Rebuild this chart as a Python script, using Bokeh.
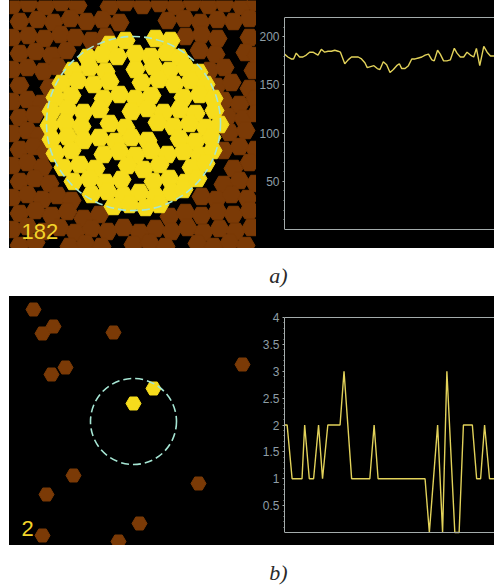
from bokeh.plotting import figure
from bokeh.layouts import column, row
from bokeh.models import Spacer, Range1d, Label, FixedTicker, Span
from bokeh.embed import file_html
from bokeh.resources import INLINE

# ---------------- data ----------------
# panel a: particle positions (panel pixel units, y downward)
brown_a = [
    (3,5),(19,3),(36,6),(52,2),(68,5),(100,6),(116,2),(133,5),(150,3),(166,6),(183,2),(199,5),(215,3),(232,6),(246,2),
    (10,21),(28,19),(44,22),(61,18),(77,21),(93,19),(110,22),(158,20),(175,18),(191,22),(208,19),(224,21),(240,18),
    (3,37),(19,35),(35,38),(51,34),(66,37),(82,40),(96,36),(176,36),(192,34),(208,38),(240,37),
    (10,53),(26,51),(42,55),(57,50),(190,50),(206,54),(236,52),(247,55),
    (3,69),(18,67),(34,71),(48,66),(200,70),(215,67),(244,70),
    (10,85),(40,87),(207,86),(222,82),(240,88),
    (3,101),(18,99),(32,103),(214,100),(230,104),(246,98),
    (10,117),(25,114),(218,116),(234,118),(247,113),
    (3,133),(18,130),(30,135),(220,132),(236,130),
    (10,149),(24,146),(36,151),(214,150),(230,146),(246,149),
    (3,165),(18,162),(33,167),(224,168),(240,162),
    (10,181),(25,178),(40,183),(214,184),(230,180),(246,183),
    (3,197),(18,194),(33,199),(48,195),(62,200),(192,196),(207,199),(222,194),(238,198),
    (10,213),(26,210),(42,215),(58,211),(74,218),(90,214),(160,216),(176,212),(192,215),(208,211),(224,214),(240,210),
    (3,229),(18,226),(34,231),(50,227),(66,232),(82,228),(98,231),(114,227),(130,232),(146,228),(162,231),(178,227),(194,232),(210,228),(226,231),(242,227),
    (10,245),(26,242),(60,246),(76,243),(92,246),(124,244),(140,242),(156,246),(188,243),(204,246),(220,242),(236,245),
]
yellow_a = [
    (100,44),(116,40),(146,38),(161,40),
    (78,57),(93,54),(108,56),(126,53),(141,56),(157,52),(170,57),
    (63,70),(80,67),(96,71),(126,69),(144,66),(160,70),(176,67),(189,72),
    (52,83),(68,80),(84,84),(100,81),(132,82),(149,79),(165,84),(181,80),(196,84),
    (46,97),(62,95),(94,98),(110,94),(126,98),(142,95),(174,97),(190,94),(204,98),
    (42,111),(58,108),(74,112),(90,109),(122,111),(138,108),(154,112),(170,109),(186,113),(205,110),
    (40,125),(56,122),(72,126),(100,123),(116,127),(148,122),(164,126),(180,123),(196,127),(210,124),
    (42,139),(58,136),(74,140),(90,137),(106,141),(122,137),(138,140),(170,138),(186,141),(202,137),
    (46,153),(62,150),(94,154),(110,151),(126,155),(142,150),(158,154),(174,151),(190,155),(203,150),
    (54,167),(70,164),(86,168),(118,165),(134,169),(150,164),(182,167),(196,163),
    (64,181),(80,178),(96,182),(112,179),(144,181),(160,178),(176,182),(188,178),
    (82,194),(98,191),(114,195),(130,192),(146,196),(162,192),(174,189),
    (104,206),(120,204),(136,207),(150,204),
]
circle_a_x = [124]
circle_a_y = [123]
circle_a_r = 87
count_a = 182

# panel a: count over time
a_t = [0,10,20,27,35,45,55,65,75,85,95,100,110,120,130,140,150,160,167,180,190,200,210,220,230,240,247,257,267,277,
       285,295,305,315,325,335,343,350,360,370,380,390,400,410,420,430,440,447,457,465,475,485,495,507,515,525,535,545,
       555,565,573,583,595,605,615,627]
a_count = [182,179,177,177,183,179,179,181,184,184,182,181,187,184,185,185,186,185,184,172,
           176,179,179,179,177,173,168,169,170,167,166,174,171,163,166,170,172,167,167,170,
           177,177,178,179,181,182,176,175,186,182,175,175,176,188,183,179,179,184,181,179,
           188,170,190,184,180,180]
a_yticks = [50, 100, 150, 200]
a_ymax = 220

# panel b: particle positions
brown_b_x = [24, 44, 33, 104, 56, 42, 233, 64, 189, 37, 130, 33, 109]
brown_b_y = [13, 30, 37, 36, 71, 78, 68, 179, 187, 198, 227, 239, 245]
yellow_b_x = [144, 124]
yellow_b_y = [92, 107]
circle_b_x = [124]
circle_b_y = [125]
circle_b_r = 43
count_b = 2

# panel b: count over time
b_t = [0,8,23,53,61,75,88,103,115,131,168,180,203,258,271,283,425,438,463,478,491,515,528,541,568,581,593,605,620,635]
b_count = [2,2,1,1,2,1,1,2,1,2,2,3,1,1,2,1,1,0,2,0,3,0,0,2,2,1,1,2,1,1]
b_yticks = [0.5, 1, 1.5, 2, 2.5, 3, 3.5, 4]
b_ymax = 4

captions = ["a)", "b)"]

# ---------------- style ----------------
BROWN = "#7b3a06"
YELLOW = "#f6dc1c"
CIRC = "#a6e6d4"
LINE = "#e2d25a"
AXIS = "#a4acac"
TICKLAB = "#8e9ea6"
LEFT_W, RIGHT_W = 247, 238


def particle_panel(bx, by, yx, yy, cx, cy, r, count, h, size):
    p = figure(width=LEFT_W, height=h, output_backend="svg", toolbar_location=None,
               x_range=Range1d(0, LEFT_W), y_range=Range1d(h, 0),
               x_axis_type=None, y_axis_type=None, min_border=0,
               background_fill_color="black", border_fill_color="black")
    p.grid.visible = False
    p.outline_line_color = None
    p.scatter(bx, by, marker="hex", size=size, fill_color=BROWN, line_color=BROWN)
    p.scatter(yx, yy, marker="hex", size=size, fill_color=YELLOW, line_color=YELLOW)
    p.circle(cx, cy, radius=r, fill_color=None, line_color=CIRC, line_width=1.6,
             line_dash="8 4")
    p.add_layout(Label(x=12, y=h - 10, text=str(count), text_color="#f2d42a",
                       text_font="Liberation Sans", text_font_size="22px",
                       text_baseline="bottom", text_align="left"))
    return p


def count_panel(t, c, ymax, ticks, minor, h, top_px, bottom_px):
    # frame fills the whole figure; value range [0, ymax] sits between top_px and h - bottom_px
    scale = (h - top_px - bottom_px) / ymax
    p = figure(width=RIGHT_W, height=h, output_backend="svg", toolbar_location=None,
               x_range=Range1d(0, t[-1]),
               y_range=Range1d(-bottom_px / scale, ymax + top_px / scale),
               x_axis_type=None,
               min_border_left=28, min_border_top=0, min_border_bottom=0,
               min_border_right=0,
               background_fill_color="black", border_fill_color="black")
    p.grid.visible = False
    p.outline_line_color = None
    for loc in (0, ymax):
        p.add_layout(Span(location=loc, dimension="width", line_color=AXIS, line_width=1))
    p.line(t, c, line_color=LINE, line_width=1.4)
    ya = p.yaxis[0]
    ya.bounds = (0, ymax)
    ya.ticker = FixedTicker(ticks=ticks, minor_ticks=minor)
    ya.axis_line_color = AXIS
    ya.major_tick_line_color = AXIS
    ya.minor_tick_line_color = AXIS
    ya.major_tick_in = 0
    ya.major_tick_out = 2
    ya.minor_tick_in = 0
    ya.minor_tick_out = 1
    ya.major_label_standoff = 3
    ya.major_label_text_color = TICKLAB
    ya.major_label_text_font = "Liberation Sans"
    ya.major_label_text_font_size = "12px"
    return p


def caption(text, h):
    p = figure(width=494, height=h, output_backend="svg", toolbar_location=None,
               x_range=Range1d(0, 494), y_range=Range1d(h, 0),
               x_axis_type=None, y_axis_type=None, min_border=0,
               background_fill_color="white", border_fill_color="white")
    p.grid.visible = False
    p.outline_line_color = None
    p.add_layout(Label(x=278, y=27, text=text, text_color="#2a2a2a",
                       text_font="Liberation Serif", text_font_style="italic",
                       text_font_size="22px", text_align="center",
                       text_baseline="middle"))
    return p


a_left = particle_panel([q[0] for q in brown_a], [q[1] for q in brown_a],
                        [q[0] for q in yellow_a], [q[1] for q in yellow_a],
                        circle_a_x, circle_a_y, circle_a_r, count_a, 248, 19)
a_right = count_panel(a_t, a_count, a_ymax, a_yticks,
                      list(range(10, 220, 10)), 248, 17, 19)
b_left = particle_panel(brown_b_x, brown_b_y, yellow_b_x, yellow_b_y,
                        circle_b_x, circle_b_y, circle_b_r, count_b, 249, 15)
b_right = count_panel(b_t, b_count, b_ymax, b_yticks,
                      [i / 10 for i in range(1, 40)], 249, 21, 13)

BLACK = {"background-color": "black"}
WHITE = {"background-color": "white"}
layout = column(
    row(Spacer(width=9, height=248, styles=WHITE), a_left, a_right, styles=BLACK),
    caption(captions[0], 48),
    row(Spacer(width=9, height=249, styles=WHITE), b_left, b_right, styles=BLACK),
    caption(captions[1], 42),
)

open("out.html", "w").write(file_html(layout, INLINE))
